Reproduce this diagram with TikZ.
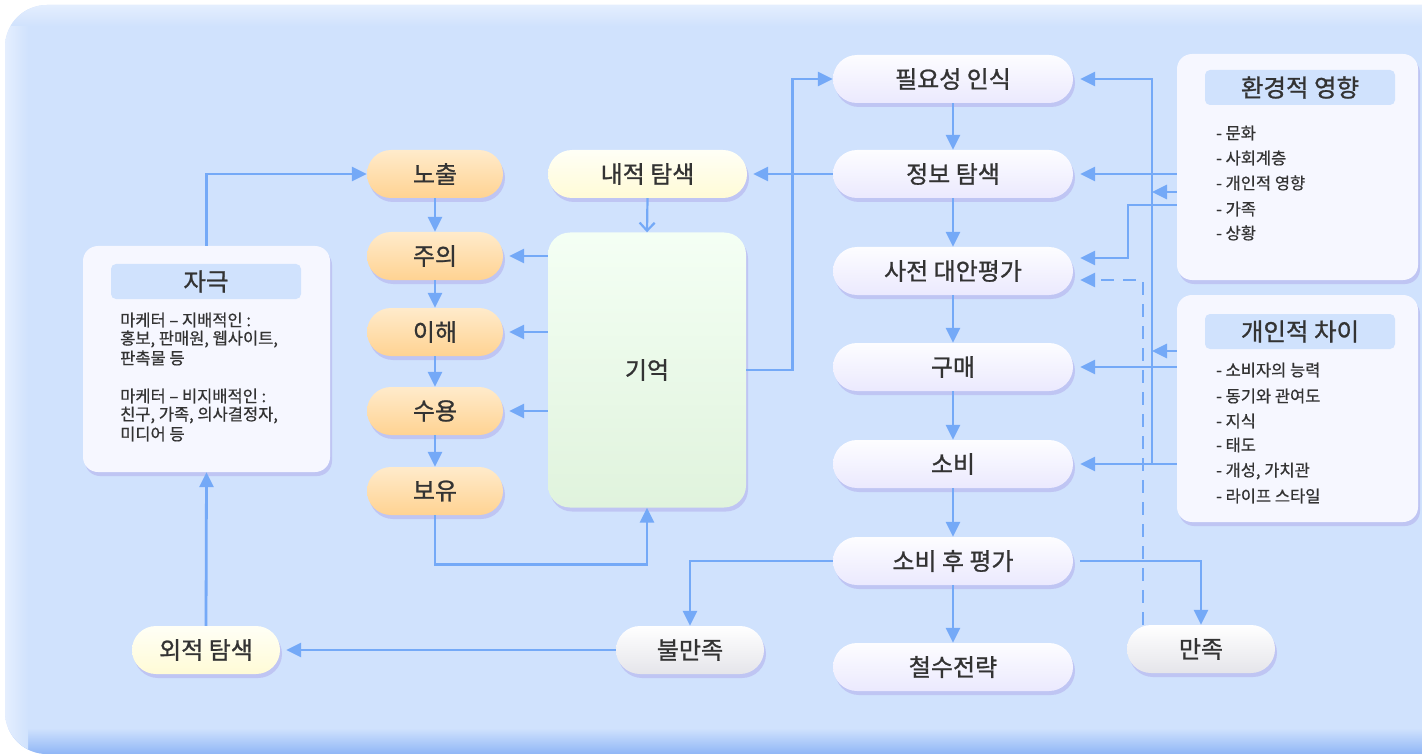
\documentclass[tikz,border=0pt]{standalone}
\usepackage{fontspec}
\setmainfont{Noto Sans CJK KR}[FakeBold=0.6]
\newfontfamily\titlefont{Noto Sans CJK KR}[FakeBold=1.0]
\usetikzlibrary{arrows.meta,shadows,calc}
\definecolor{bgpanel}{HTML}{D0E2FD}
\definecolor{panelbot}{HTML}{8FB6F6}
\definecolor{panelleft}{HTML}{E9F1FE}
\definecolor{arrowc}{HTML}{74A9F7}
\definecolor{txt}{HTML}{333333}
\definecolor{shadowc}{HTML}{AFAAEB}
\definecolor{pilltop}{HTML}{FDFDFF}
\definecolor{pillbot}{HTML}{EBE9FE}
\definecolor{orangetop}{HTML}{FFEBCB}
\definecolor{orangebot}{HTML}{FFD392}
\definecolor{creamtop}{HTML}{FFFFF6}
\definecolor{creambot}{HTML}{FFFBD6}
\definecolor{memtop}{HTML}{F4FFF4}
\definecolor{membot}{HTML}{E0F3DD}
\definecolor{graytop}{HTML}{FFFFFF}
\definecolor{graybot}{HTML}{E5E5EA}
\definecolor{infofill}{HTML}{F6F7FF}
\definecolor{titlebar}{HTML}{D0E2FD}
\tikzset{
  shd/.style={drop shadow={shadow xshift=2pt,shadow yshift=-4pt,opacity=.5,fill=shadowc}},
  pill/.style={shd,rounded corners=24pt,minimum height=48pt,inner sep=0pt,
    text=txt,font=\titlefont\fontsize{24}{28}\selectfont},
  mainpill/.style={pill,minimum width=240pt,top color=pilltop,bottom color=pillbot},
  orangepill/.style={pill,minimum width=136pt,top color=orangetop,bottom color=orangebot},
  creampill/.style={pill,top color=creamtop,bottom color=creambot},
  graypill/.style={pill,minimum width=148pt,top color=graytop,bottom color=graybot},
  infobox/.style={shd,rounded corners=15pt,fill=infofill,inner sep=0pt},
  titlebox/.style={rounded corners=5pt,fill=titlebar,minimum width=190pt,minimum height=35pt,
    inner sep=0pt,text=txt,font=\titlefont\fontsize{24.5}{28}\selectfont},
  itemtext/.style={anchor=west,inner sep=0pt,text=txt,font=\fontsize{16.5}{19}\selectfont},
  arr/.style={draw=arrowc,line width=2.8pt,-{Triangle[length=15pt,width=14pt]}},
  arrgap/.style={arr,shorten >=6pt},
}
\begin{document}
\begin{tikzpicture}[x=1pt,y=-1pt]
\useasboundingbox (0,0) rectangle (1422,754);
\fill[white] (0,0) rectangle (1422,754);
% background panel
\begin{scope}
  \clip[rounded corners=42pt] (5,5) rectangle (1480,754);
  \fill[bgpanel] (0,0) rectangle (1480,754);
  \shade[top color=bgpanel,bottom color=panelbot] (0,728) rectangle (1480,754);
  \shade[left color=panelleft,right color=bgpanel] (0,0) rectangle (28,754);
  \shade[top color=panelleft,bottom color=bgpanel] (0,0) rectangle (1480,26);
\end{scope}

% left column
\node[orangepill] (exp) at (435,174) {노출};
\node[orangepill] (att) at (435,256) {주의};
\node[orangepill] (und) at (435,332) {이해};
\node[orangepill] (acc) at (435,411) {수용};
\node[orangepill] (ret) at (435,491) {보유};

\node[creampill,minimum width=199pt] (int) at (647.5,174) {내적 탐색};
\node[shd,rounded corners=22pt,top color=memtop,bottom color=membot,minimum width=198pt,
  minimum height=275pt,inner sep=0pt,text=txt,font=\titlefont\fontsize{24}{28}\selectfont] (mem) at (647,370) {기억};

% main column
\node[mainpill] (need) at (953,79) {필요성 인식};
\node[mainpill] (info) at (953,174) {정보 탐색};
\node[mainpill] (alt) at (953,271) {사전 대안평가};
\node[mainpill] (pur) at (953,367) {구매};
\node[mainpill] (con) at (953,464) {소비};
\node[mainpill] (post) at (953,561) {소비 후 평가};
\node[mainpill] (wd) at (953,667) {철수전략};

\node[graypill] (dis) at (690,650) {불만족};
\node[graypill] (sat) at (1201,649) {만족};
\node[creampill,minimum width=148pt] (ext) at (206,650) {외적 탐색};

% stimulus box
\node[infobox,minimum width=247pt,minimum height=226pt] (stim) at (206.5,359) {};
\node[titlebox] (stimT) at (206,281.5) {자극};
\foreach \t/\y [count=\i] in {{마케터 – 지배적인 :}/320,{홍보, 판매원, 웹사이트,}/339,{판촉물 등}/358,
  {마케터 – 비지배적인 :}/396,{친구, 가족, 의사결정자,}/415,{미디어 등}/434}
  \node[itemtext] (stim-\i) at (120,\y) {\t};

% environment box
\node[infobox,minimum width=241pt,minimum height=226pt] (env) at (1297.5,167) {};
\node[titlebox] (envT) at (1300,87.5) {환경적 영향};
\foreach \t/\y [count=\i] in {{- 문화}/133,{- 사회계층}/158,{- 개인적 영향}/183,{- 가족}/209,{- 상황}/233}
  \node[itemtext] (env-\i) at (1216,\y) {\t};

% individual differences box
\node[infobox,minimum width=241pt,minimum height=227pt] (pers) at (1297.5,408.5) {};
\node[titlebox] (persT) at (1300,331.5) {개인적 차이};
\foreach \t/\y [count=\i] in {{- 소비자의 능력}/370,{- 동기와 관여도}/396,{- 지식}/421,{- 태도}/445,
  {- 개성, 가치관}/471,{- 라이프 스타일}/496}
  \node[itemtext] (pers-\i) at (1216,\y) {\t};

\coordinate (vx) at (1152,0);

% connectors: left
\draw[arr] (stim.north) |- (exp.west);
\draw[arr] (exp) -- (att);
\draw[arr] (att) -- (und);
\draw[arr] (und) -- (acc);
\draw[arr] (acc) -- (ret);
\draw[arrgap] (mem.west |- att.east) -- (att.east);
\draw[arrgap] (mem.west |- und.east) -- (und.east);
\draw[arrgap] (mem.west |- acc.east) -- (acc.east);
\draw[arr] (ret.south) -- ++(0,49) -| (mem.south);
\draw[draw=arrowc,line width=2.2pt,-{Straight Barb[length=8pt,width=15pt]}] (int.south) -- (mem.north);
\draw[arr] (mem.east) -- ++(46,0) |- (need.west);
\draw[arrgap] (info.west) -- (int.east);

% main column
\draw[arr] (need) -- (info);
\draw[arr] (info) -- (alt);
\draw[arr] (alt) -- (pur);
\draw[arr] (pur) -- (con);
\draw[arr] (con) -- (post);
\draw[arr] (post) -- (wd);
\draw[arr] (post.west) -| (dis.north);
\draw[arr] ($(post.east)+(7,0)$) -| (sat.north);
\draw[arrgap] (dis.west) -- (ext.east);
\draw[arr] (ext.north) -- (stim.south);
\draw[arr,shorten >=7pt,dash pattern=on 13pt off 9pt] ($(sat.north)+(-58,0)$) |- ($(alt.east)+(0,9)$);

% right side influences
\draw[arr,shorten >=7pt] (env.west |- info.east) -- (info.east);
\draw[arr] (env.west |- 0,192) -- (vx |- 0,192);
\draw[arr,shorten >=7pt] (env.west |- 0,205) -- (1128,205) |- ($(alt.east)+(0,-13)$);
\draw[arr] (pers.west |- 0,351) -- (vx |- 0,351);
\draw[arr,shorten >=7pt] (pers.west |- pur.east) -- (pur.east);
\draw[arr,shorten >=7pt] (pers.west |- con.east) -- (con.east);
\draw[arr,shorten >=7pt] (vx |- con.east) |- (need.east);
\end{tikzpicture}
\end{document}
